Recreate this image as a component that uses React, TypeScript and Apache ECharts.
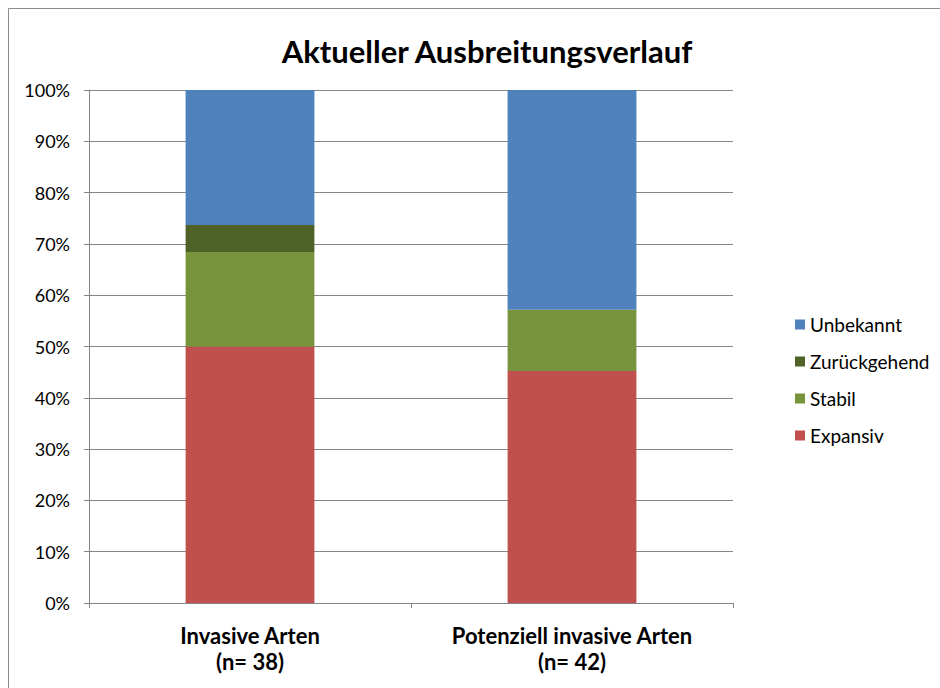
import React, { useEffect, useRef } from "react";
import * as echarts from "echarts";

const categories = ["Invasive Arten\n(n= 38)", "Potenziell invasive Arten\n(n= 42)"];
const expansiv = [50.0, 45.24];
const stabil = [18.42, 11.9];
const zurueck = [5.26, 0];
const unbekannt = [26.32, 42.86];
const legendOrder = ["Unbekannt", "Zurückgehend", "Stabil", "Expansiv"];

const FONT = "Lato, 'Open Sans', sans-serif";

export default function App() {
  const ref = useRef<HTMLDivElement>(null);
  useEffect(() => {
    if (!ref.current) return;
    const chart = echarts.init(ref.current, null, { renderer: "svg" });
    const mk = (name: string, data: number[], color: string) => ({
      name,
      type: "bar",
      stack: "s",
      data,
      barWidth: "40%",
      itemStyle: { color },
    });
    chart.setOption({
      animation: false,
      backgroundColor: "#ffffff",
      textStyle: { fontFamily: FONT },
      title: {
        text: "Aktueller Ausbreitungsverlauf",
        left: 482,
        top: 30,
        textAlign: "center",
        textStyle: { fontFamily: FONT, fontSize: 31, fontWeight: "bold", color: "#000" },
      },
      graphic: [
        {
          type: "rect",
          shape: { x: 8.5, y: 8.5, width: 960, height: 700 },
          style: { fill: "none", stroke: "#8c8c8c", lineWidth: 1 },
          silent: true,
        },
      ],
      legend: {
        orient: "vertical",
        left: 790,
        top: 310,
        itemWidth: 10,
        itemHeight: 10,
        itemGap: 18,
        icon: "rect",
        data: legendOrder,
        textStyle: { fontFamily: FONT, fontSize: 19, color: "#000" },
      },
      grid: { left: 89, right: 207, top: 90, bottom: 85 },
      xAxis: {
        type: "category",
        data: categories,
        axisLine: { lineStyle: { color: "#868686" } },
        axisTick: { show: true, length: 5, lineStyle: { color: "#868686" } },
        axisLabel: {
          margin: 19,
          fontFamily: FONT,
          fontSize: 22,
          fontWeight: "bold",
          color: "#000",
          lineHeight: 26,
        },
      },
      yAxis: {
        type: "value",
        min: 0,
        max: 100,
        interval: 10,
        axisLine: { show: true, lineStyle: { color: "#868686" } },
        axisTick: { show: true, length: 5, lineStyle: { color: "#868686" } },
        splitLine: { lineStyle: { color: "#868686" } },
        axisLabel: {
          formatter: "{value}%",
          margin: 19,
          fontFamily: FONT,
          fontSize: 18,
          color: "#000",
        },
      },
      series: [
        mk("Expansiv", expansiv, "#C0504D"),
        mk("Stabil", stabil, "#77933C"),
        mk("Zurückgehend", zurueck, "#4F6228"),
        mk("Unbekannt", unbekannt, "#4F81BD"),
      ],
    });
    return () => chart.dispose();
  }, []);
  return (
    <div
      ref={ref}
      style={{ position: "absolute", left: 0, top: 0, width: 940, height: 688 }}
    />
  );
}
